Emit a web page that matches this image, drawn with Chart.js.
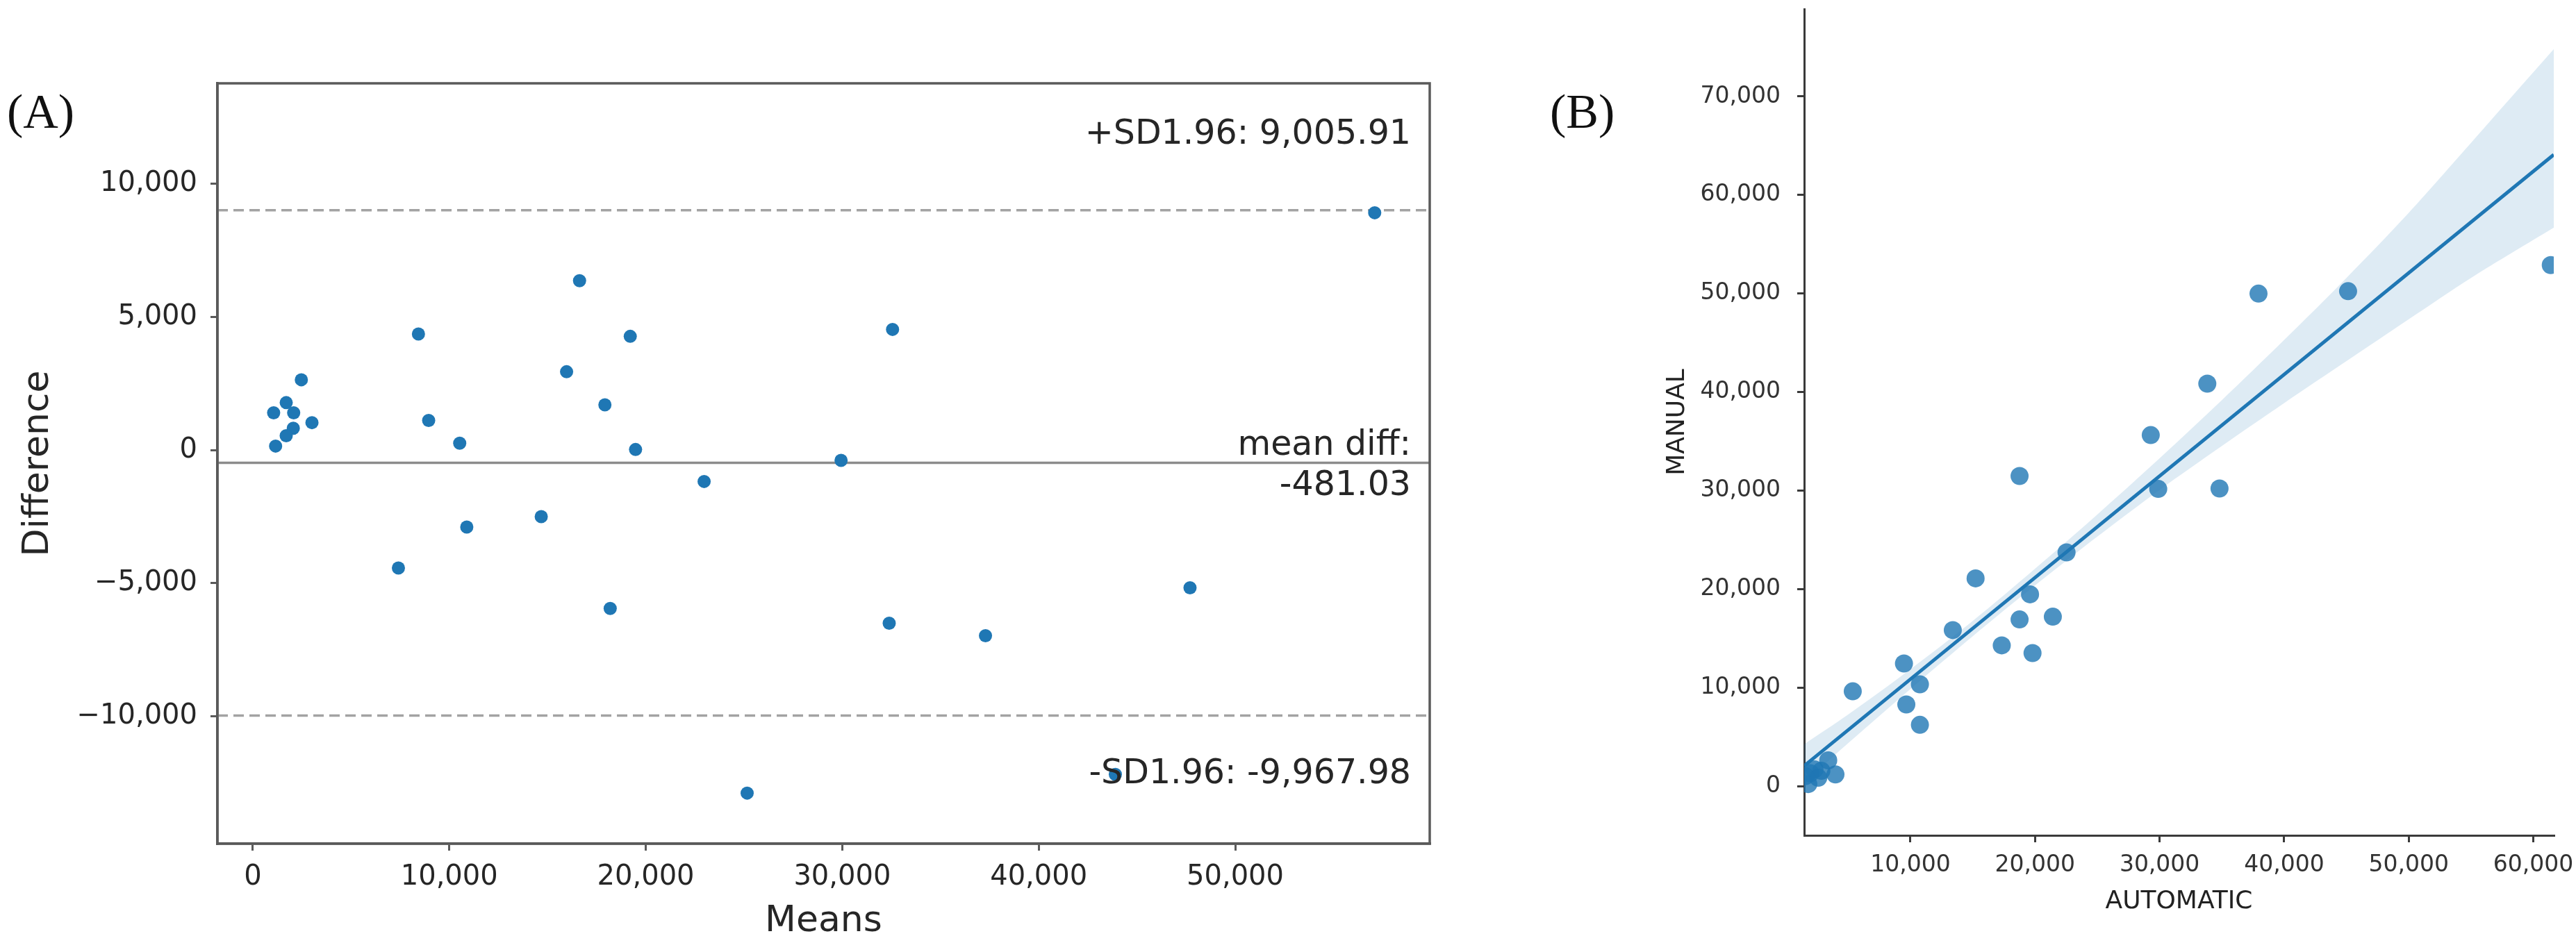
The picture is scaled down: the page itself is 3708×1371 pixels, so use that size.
<!DOCTYPE html>
<html>
<head>
<meta charset="utf-8">
<script src="https://cdn.jsdelivr.net/npm/chart.js@4/dist/chart.umd.min.js"></script>
<style>
html,body{margin:0;padding:0;background:#fff;}
body{width:3708px;height:1371px;position:relative;overflow:hidden;}
canvas{position:absolute;top:0;}
#cA{left:0;}
#cB{left:2150px;}
.panel{position:absolute;z-index:2;font-family:"Liberation Serif",serif;font-size:70px;line-height:1;color:#111;white-space:nowrap;}
</style>
</head>
<body>
<canvas id="cA" width="2150" height="1371"></canvas>
<canvas id="cB" width="1558" height="1371"></canvas>
<div class="panel" style="left:10px;top:126px">(A)</div>
<div class="panel" style="left:2231px;top:126px">(B)</div>
<script>
// ---------- Panel A: Bland-Altman ----------
const meansA = [1060, 1700, 2470, 2080, 3010, 2060, 1700, 1160, 8430, 8950, 10530, 16630, 15970, 19210, 17920, 19480,
                7410, 10890, 14680, 18190, 32560, 57100, 29940, 22970, 47700, 32390, 37290, 25160, 43900];
const diffsA = [1400, 1780, 2640, 1400, 1030, 820, 540, 150, 4360, 1110, 260, 6360, 2940, 4270, 1700, 20,
                -4430, -2890, -2500, -5950, 4530, 8910, -390, -1180, -5170, -6500, -6970, -12880, -12180];
const meanDiff = -481.03;
const upperLoA = 9005.91;
const lowerLoA = -9967.98;
const upperLabel = '+SD1.96: 9,005.91';
const meanLabel1 = 'mean diff:';
const meanLabel2 = '-481.03';
const lowerLabel = '-SD1.96: -9,967.98';
const xRangeA = [-1800, 59900];
const yRangeA = [-14780, 13770];
const xTicksA = [0, 10000, 20000, 30000, 40000, 50000];
const yTicksA = [-10000, -5000, 0, 5000, 10000];

// ---------- Panel B: regression ----------
const autoB   = [18760, 15230, 13400, 9480, 10760, 9670, 10760, 5370, 17330, 18760, 19600, 19800, 21430, 3980, 3400,
                 29890, 34810, 22530, 29290, 33830, 37940, 45130, 61400, 1800, 2600, 2850, 2300, 1950, 1550];
const manualB = [31500, 21120, 15870, 12480, 10370, 8330, 6260, 9660, 14320, 16950, 19500, 13540, 17230, 1230, 2660,
                 30190, 30230, 23750, 35650, 40870, 50000, 50250, 52900, 250, 900, 1600, 1750, 1350, 1050];
const regLineX = [1470, 61640];
const regLineY = [2100, 64100];
const bandX     = [1470, 5000, 10000, 15000, 20000, 25000, 30000, 35000, 40000, 45000, 50000, 55000, 61640];
const bandUpper = [4300, 7300, 11900, 16800, 22100, 27600, 33300, 39200, 45300, 51600, 58200, 65300, 74800];
const bandLower = [400, 4400, 9900, 15250, 20400, 25350, 30100, 34550, 38900, 43150, 47400, 51600, 56700];
const xRangeB = [1470, 61640];
const yRangeB = [-4950, 78870];
const xTicksB = [10000, 20000, 30000, 40000, 50000, 60000];
const yTicksB = [0, 10000, 20000, 30000, 40000, 50000, 60000, 70000];

function fmt(v) {
  const s = Math.abs(v).toLocaleString('en-US');
  return (v < 0 ? '\u2212' : '') + s;
}
const FONT = "'DejaVu Sans', sans-serif";
const TXT = '#262626';

const frameAndText = {
  id: 'frameAndText',
  afterDraw(chart) {
    const ctx = chart.ctx, ca = chart.chartArea, y = chart.scales.y;
    ctx.save();
    ctx.strokeStyle = '#5a5a5a';
    ctx.lineWidth = 3.5;
    ctx.strokeRect(ca.left, ca.top, ca.right - ca.left, ca.bottom - ca.top);
    ctx.font = '49px ' + FONT;
    ctx.fillStyle = TXT;
    ctx.textAlign = 'right';
    ctx.textBaseline = 'alphabetic';
    const xr = ca.right - 27;
    ctx.fillText(upperLabel, xr, y.getPixelForValue(upperLoA) - 96);
    ctx.fillText(meanLabel1, xr, y.getPixelForValue(meanDiff) - 12);
    ctx.fillText(meanLabel2, xr, y.getPixelForValue(meanDiff) + 46);
    ctx.fillText(lowerLabel, xr, y.getPixelForValue(lowerLoA) + 98);
    ctx.restore();
  }
};

function hline(v, color, dash) {
  return {
    type: 'line',
    data: [{x: xRangeA[0], y: v}, {x: xRangeA[1], y: v}],
    borderColor: color, borderWidth: 3.5, borderDash: dash, pointRadius: 0, order: 1
  };
}

new Chart(document.getElementById('cA'), {
  type: 'scatter',
  data: {
    datasets: [
      { label: 'Bland-Altman', data: meansA.map((m, i) => ({x: m, y: diffsA[i]})),
        backgroundColor: '#1f77b4', borderWidth: 0, pointRadius: 9.5, pointHoverRadius: 9.5, order: 0 },
      hline(meanDiff, '#8c8c8c', []),
      hline(upperLoA, '#a3a3a3', [15, 8]),
      hline(lowerLoA, '#a3a3a3', [15, 8])
    ]
  },
  options: {
    responsive: false, animation: false, devicePixelRatio: 1,
    layout: { padding: { left: 0, top: 120, right: 92, bottom: 0 } },
    plugins: { legend: { display: false }, tooltip: { enabled: false } },
    scales: {
      x: {
        type: 'linear', min: xRangeA[0], max: xRangeA[1],
        afterBuildTicks: s => { s.ticks = xTicksA.map(v => ({value: v})); },
        afterFit: s => { s.height = 156; s.paddingLeft = 0; s.paddingRight = 0; },
        grid: { drawOnChartArea: false, drawTicks: true, tickLength: 10, color: '#5a5a5a', lineWidth: 3 },
        border: { display: true, color: '#5a5a5a', width: 3.5 },
        ticks: { font: { family: FONT, size: 40 }, color: TXT, padding: 15, maxRotation: 0, autoSkip: false, callback: v => fmt(v) },
        title: { display: true, text: 'Means', font: { family: FONT, size: 52 }, color: TXT, padding: { top: 0, bottom: 12 } }
      },
      y: {
        type: 'linear', min: yRangeA[0], max: yRangeA[1],
        afterBuildTicks: s => { s.ticks = yTicksA.map(v => ({value: v})); },
        afterFit: s => { s.width = 313; s.paddingTop = 0; s.paddingBottom = 0; },
        grid: { drawOnChartArea: false, drawTicks: true, tickLength: 10, color: '#5a5a5a', lineWidth: 3 },
        border: { display: true, color: '#5a5a5a', width: 3.5 },
        ticks: { font: { family: FONT, size: 40 }, color: TXT, padding: 19, autoSkip: false, callback: v => fmt(v) },
        title: { display: true, text: 'Difference', font: { family: FONT, size: 52 }, color: TXT, padding: { top: 24, bottom: 0 } }
      }
    }
  },
  plugins: [frameAndText]
});

new Chart(document.getElementById('cB'), {
  type: 'scatter',
  data: {
    datasets: [
      { label: 'fit', type: 'line', data: regLineX.map((x, i) => ({x: x, y: regLineY[i]})),
        borderColor: '#1f77b4', borderWidth: 5, pointRadius: 0, order: 0 },
      { label: 'ci upper', type: 'line', data: bandX.map((x, i) => ({x: x, y: bandUpper[i]})),
        borderColor: 'rgba(0,0,0,0)', borderWidth: 1, backgroundColor: 'rgba(31,119,180,0.15)',
        fill: '+1', pointRadius: 0, tension: 0.3, order: 1 },
      { label: 'ci lower', type: 'line', data: bandX.map((x, i) => ({x: x, y: bandLower[i]})),
        borderColor: 'rgba(0,0,0,0)', borderWidth: 1, fill: false, pointRadius: 0, tension: 0.3, order: 1 },
      { label: 'points', data: autoB.map((a, i) => ({x: a, y: manualB[i]})),
        backgroundColor: 'rgba(31,119,180,0.8)', borderWidth: 0, pointRadius: 13, pointHoverRadius: 13, clip: 0, order: 2 }
    ]
  },
  options: {
    responsive: false, animation: false, devicePixelRatio: 1,
    layout: { padding: { left: 0, top: 13, right: 32, bottom: 0 } },
    plugins: { legend: { display: false }, tooltip: { enabled: false } },
    scales: {
      x: {
        type: 'linear', min: xRangeB[0], max: xRangeB[1],
        afterBuildTicks: s => { s.ticks = xTicksB.map(v => ({value: v})); },
        afterFit: s => { s.height = 168; s.paddingLeft = 0; s.paddingRight = 0; },
        grid: { drawOnChartArea: false, drawTicks: true, tickLength: 10, color: '#3a3a3a', lineWidth: 3 },
        border: { display: true, color: '#3a3a3a', width: 3 },
        ticks: { font: { family: FONT, size: 33 }, color: '#333', padding: 14, maxRotation: 0, autoSkip: false, callback: v => fmt(v) },
        title: { display: true, text: 'AUTOMATIC', font: { family: FONT, size: 36 }, color: '#222', padding: { top: 0, bottom: 51 } }
      },
      y: {
        type: 'linear', min: yRangeB[0], max: yRangeB[1],
        afterBuildTicks: s => { s.ticks = yTicksB.map(v => ({value: v})); },
        afterFit: s => { s.width = 447; s.paddingTop = 0; s.paddingBottom = 0; },
        grid: { drawOnChartArea: false, drawTicks: true, tickLength: 10, color: '#3a3a3a', lineWidth: 3 },
        border: { display: true, color: '#3a3a3a', width: 3 },
        ticks: { font: { family: FONT, size: 33 }, color: '#333', padding: 24, autoSkip: false, callback: v => fmt(v) },
        title: { display: true, text: 'MANUAL', font: { family: FONT, size: 36 }, color: '#222', padding: { top: 243, bottom: 0 } }
      }
    }
  }
});
</script>
</body>
</html>
